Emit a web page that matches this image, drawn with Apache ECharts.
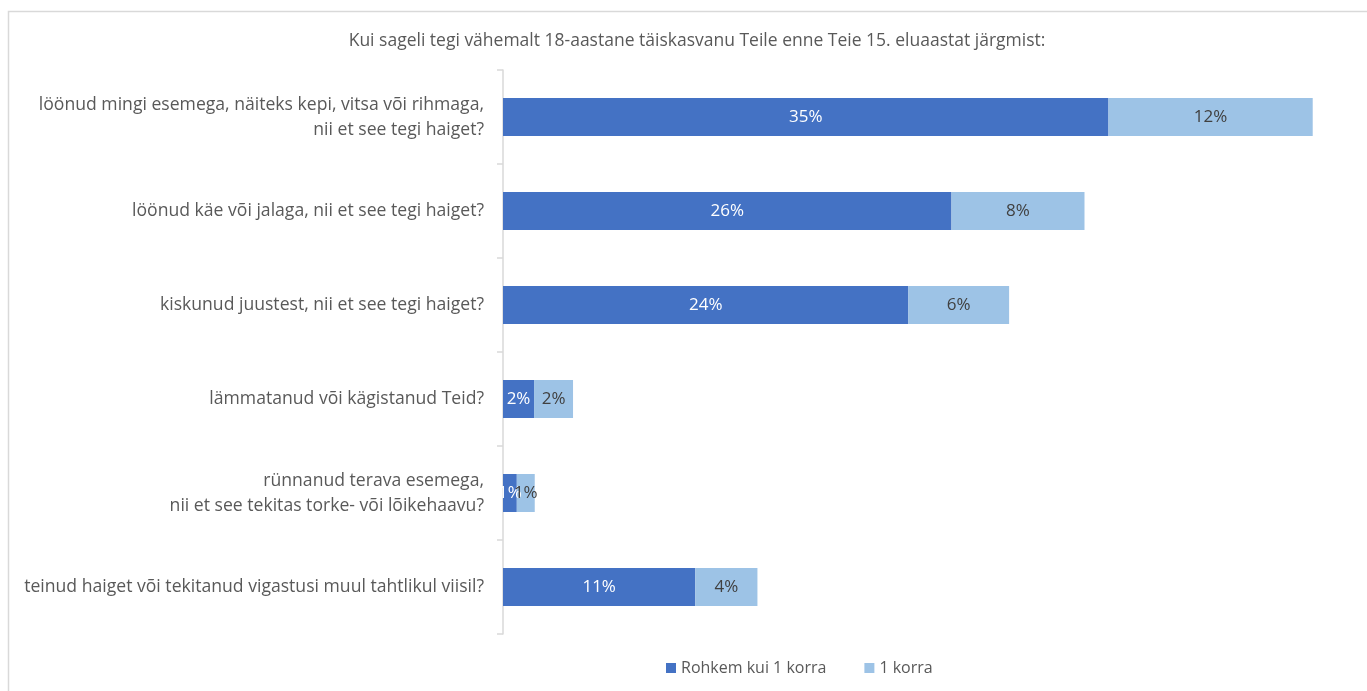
<!DOCTYPE html>
<html>
<head>
<meta charset="utf-8">
<script src="https://cdn.jsdelivr.net/npm/echarts@6/dist/echarts.min.js"></script>
<style>html,body{margin:0;padding:0;background:#fff;}#c{width:1367px;height:691px;}</style>
</head>
<body>
<div id="c"></div>
<script>
const titleText = 'Kui sageli tegi vähemalt 18-aastane täiskasvanu Teile enne Teie 15. eluaastat järgmist:';
const categories = [
  'löönud mingi esemega, näiteks kepi, vitsa või rihmaga,\nnii et see tegi haiget?',
  'löönud käe või jalaga, nii et see tegi haiget?',
  'kiskunud juustest, nii et see tegi haiget?',
  'lämmatanud või kägistanud Teid?',
  'rünnanud terava esemega,\nnii et see tekitas torke- või lõikehaavu?',
  'teinud haiget või tekitanud vigastusi muul tahtlikul viisil?'
];
const seriesNames = ['Rohkem kui 1 korra', '1 korra'];
const moreThanOnce = [35.1, 26.0, 23.5, 1.8, 0.8, 11.15];
const once = [11.84, 7.71, 5.84, 2.26, 1.04, 3.6];

const FONT = 'Open Sans';
const chart = echarts.init(document.getElementById('c'));
chart.setOption({
  backgroundColor: '#fff',
  animation: false,
  textStyle: { fontFamily: FONT },
  title: {
    text: titleText,
    left: 692, top: 27, textAlign: 'center',
    textStyle: { fontFamily: FONT, fontSize: 17.5, fontWeight: 'normal', color: '#595959' }
  },
  graphic: [{
    type: 'rect', shape: { x: 8.5, y: 11.5, width: 1400, height: 700 },
    style: { fill: 'none', stroke: '#d9d9d9', lineWidth: 1.5 }, silent: true, z: -1
  }],
  legend: {
    bottom: 10, left: 661, itemWidth: 10, itemHeight: 10, itemGap: 38,
    icon: 'rect',
    textStyle: { fontFamily: FONT, fontSize: 16, color: '#595959' },
    data: seriesNames
  },
  grid: { left: 503, width: 828, top: 70, height: 564, containLabel: false },
  xAxis: { type: 'value', min: 0, max: 48, show: false, splitLine: { show: false } },
  yAxis: {
    type: 'category', data: categories, inverse: true,
    axisLine: { show: true, lineStyle: { color: '#d9d9d9', width: 1.5 } },
    axisTick: { show: true, length: 6, lineStyle: { color: '#d9d9d9', width: 1.5 } },
    axisLabel: { margin: 19, fontFamily: FONT, fontSize: 17.6, color: '#595959', lineHeight: 25, align: 'right' }
  },
  series: [
    {
      name: seriesNames[0], type: 'bar', stack: 't', data: moreThanOnce, barWidth: 38,
      itemStyle: { color: '#4472c4' },
      label: { show: true, position: 'inside', color: '#ffffff', fontFamily: FONT, fontSize: 17,
        formatter: p => Math.round(p.value) + '%' }
    },
    {
      name: seriesNames[1], type: 'bar', stack: 't', data: once, barWidth: 38,
      itemStyle: { color: '#9dc3e6' },
      label: { show: true, position: 'inside', color: '#404040', fontFamily: FONT, fontSize: 17,
        formatter: p => Math.round(p.value) + '%' }
    }
  ]
});
</script>
</body>
</html>
